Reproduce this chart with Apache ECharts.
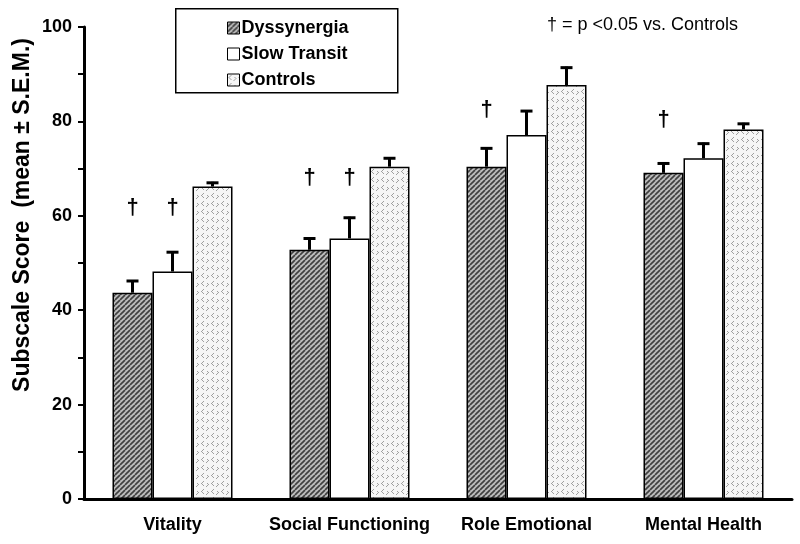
<!DOCTYPE html>
<html>
<head>
<meta charset="utf-8">
<script src="https://cdn.jsdelivr.net/npm/echarts@6/dist/echarts.min.js"></script>
<style>html,body{margin:0;padding:0;background:#fff}#c{width:800px;height:544px}</style>
</head>
<body>
<div id="c"></div>
<script>
// ---- data ----
const categories = ['Vitality', 'Social Functioning', 'Role Emotional', 'Mental Health'];
const seriesNames = ['Dyssynergia', 'Slow Transit', 'Controls'];
const dyssynergia = [43.7, 52.8, 70.4, 69.1];
const slowTransit = [48.2, 55.2, 77.1, 72.2];
const controls = [66.2, 70.4, 87.7, 78.3];
const dyssynergiaSEM = [2.7, 2.6, 4.1, 2.2];
const slowTransitSEM = [4.3, 4.6, 5.3, 3.3];
const controlsSEM = [1.0, 2.0, 3.9, 1.4];
// daggers: [categoryIndex, seriesIndex, height]
const daggers = [[0, 0, 61.6], [0, 1, 61.6], [1, 0, 68.0], [1, 1, 68.0], [2, 0, 82.4], [3, 0, 80.3]];
const yTicks = [0, 20, 40, 60, 80, 100];
const yTitle = 'Subscale Score  (mean ± S.E.M.)';
const note = '† = p <0.05 vs. Controls';

// ---- patterns ----
function hatch() {
  const c = document.createElement('canvas'); c.width = 5; c.height = 5;
  const g = c.getContext('2d');
  g.fillStyle = '#bdbdbd'; g.fillRect(0, 0, 5, 5);
  g.strokeStyle = '#404040'; g.lineWidth = 1.7;
  for (let k = -5; k <= 10; k += 5) { g.beginPath(); g.moveTo(k, 5); g.lineTo(k + 5, 0); g.stroke(); }
  return c;
}
function chevrons() {
  const c = document.createElement('canvas'); c.width = 10; c.height = 8;
  const g = c.getContext('2d');
  g.fillStyle = '#f6f6f6'; g.fillRect(0, 0, 10, 8);
  g.fillStyle = '#a0a0a0';
  const px = [[3,1],[2,2],[1,3],[2,4],[3,5],[7,3],[8,4],[7,5],[6,6]];
  px.forEach(p => g.fillRect(p[0], p[1], 1, 1));
  return c;
}
const fills = [
  { image: hatch(), repeat: 'repeat' },
  '#ffffff',
  { image: chevrons(), repeat: 'repeat' }
];
const values = [dyssynergia, slowTransit, controls];
const sems = [dyssynergiaSEM, slowTransitSEM, controlsSEM];
const BAR_W = 40;
const FONT = '"Liberation Sans", Arial, sans-serif';

const errData = [];
values.forEach((arr, s) => arr.forEach((v, i) => errData.push([i, s, v, sems[s][i]])));

const chart = echarts.init(document.getElementById('c'), null, { renderer: 'canvas' });
chart.setOption({
  animation: false,
  backgroundColor: '#fff',
  grid: { left: 84, right: 8, top: 27, bottom: 45 },
  graphic: [
    { type: 'rect', left: 175, top: 8, shape: { width: 222, height: 84 }, style: { fill: '#fff', stroke: '#000', lineWidth: 1.5 }, z: 0 },
    { type: 'text', left: 547, top: 16, style: { text: note, font: '18px ' + FONT, fill: '#000' } },
    { type: 'text', x: 23, y: 215, rotation: Math.PI / 2,
      style: { text: yTitle, font: 'bold 23px ' + FONT, fill: '#000', align: 'center', verticalAlign: 'middle' } }
  ],
  legend: {
    data: seriesNames,
    orient: 'vertical',
    left: 222, top: 14,
    itemGap: 8,
    itemWidth: 12, itemHeight: 12,
    icon: 'rect',
    z: 5,
    textStyle: { fontFamily: FONT, fontSize: 18, fontWeight: 'bold', color: '#000', padding: [0, 0, 0, -3] },
    itemStyle: { borderColor: '#000', borderWidth: 1 }
  },
  xAxis: {
    type: 'category',
    data: categories,
    axisLine: { lineStyle: { color: '#000', width: 3 } },
    axisTick: { length: 6, lineStyle: { color: '#000', width: 2 } },
    axisLabel: { interval: 0, color: '#000', fontFamily: FONT, fontSize: 18, fontWeight: 'bold', margin: 17 }
  },
  yAxis: {
    type: 'value', min: 0, max: 100, interval: 10,
    splitLine: { show: false },
    axisLine: { show: true, lineStyle: { color: '#000', width: 3 } },
    axisTick: { show: true, length: 6, lineStyle: { color: '#000', width: 2 } },
    axisLabel: {
      color: '#000', fontFamily: FONT, fontSize: 18, fontWeight: 'bold', margin: 12,
      formatter: v => (yTicks.indexOf(v) >= 0 ? String(v) : '')
    }
  },
  series: [
    ...seriesNames.map((n, s) => ({
      name: n, type: 'bar', data: values[s], barWidth: BAR_W, barGap: '0%',
      itemStyle: { color: fills[s], borderColor: '#000', borderWidth: 1.5 },
      z: 2
    })),
    {
      type: 'custom', name: 'err', data: errData, encode: { x: 0, y: 2 }, z: 3, silent: true,
      renderItem: (params, api) => {
        const i = api.value(0), s = api.value(1), v = api.value(2), e = api.value(3);
        const p0 = api.coord([i, v]), p1 = api.coord([i, v + e]);
        const x = p0[0] + (s - 1) * BAR_W;
        return { type: 'group', children: [
          { type: 'line', shape: { x1: x, y1: p0[1], x2: x, y2: p1[1] }, style: { stroke: '#000', lineWidth: 3 } },
          { type: 'line', shape: { x1: x - 6, y1: p1[1] + 1, x2: x + 6, y2: p1[1] + 1 }, style: { stroke: '#000', lineWidth: 3 } }
        ] };
      }
    },
    {
      type: 'custom', name: 'dagger', data: daggers, encode: { x: 0, y: 2 }, z: 3, silent: true,
      renderItem: (params, api) => {
        const i = api.value(0), s = api.value(1), h = api.value(2);
        const p = api.coord([i, h]);
        return { type: 'text', x: p[0] + (s - 1) * BAR_W, y: p[1],
          style: { text: '†', font: 'bold 22px ' + FONT, fill: '#000', align: 'center', verticalAlign: 'middle' } };
      }
    }
  ]
});
</script>
</body>
</html>
